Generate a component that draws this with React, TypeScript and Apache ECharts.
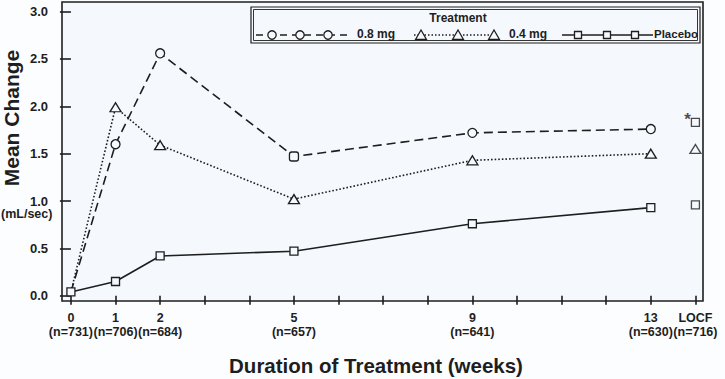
import React, { useEffect, useRef } from 'react';
import * as echarts from 'echarts';

// ---- data ----
const weeks = [0, 1, 2, 5, 9, 13];
const locfX = 14;
const tickPositions = [0, 1, 2, 5, 9, 13, 14];
const tickLabels = ['0', '1', '2', '5', '9', '13', 'LOCF'];
const nCounts = ['(n=731)', '(n=706)', '(n=684)', '(n=657)', '(n=641)', '(n=630)', '(n=716)'];
const yTicks = [0, 0.5, 1, 1.5, 2, 2.5, 3];
const xMinorTicks = [0, 1, 2, 3, 4, 5, 6, 7, 8, 9, 10, 11, 12, 13, 14];

const dose08 = [0.04, 1.6, 2.56, 1.47, 1.72, 1.76];
const dose04 = [0.04, 1.99, 1.59, 1.02, 1.43, 1.5];
const placebo = [0.04, 0.15, 0.42, 0.47, 0.76, 0.93];
const locf08 = 1.83;
const locf04 = 1.55;
const locfPlacebo = 0.96;

const INK = '#1e1e1e';
const PLOT_BG = '#f5f8fc';
const OUTER_BG = '#fcfdfe';
const FONT = '"Liberation Sans", Arial, Helvetica, sans-serif';

function buildOption() {
  const markerStyle = { color: PLOT_BG, borderColor: INK, borderWidth: 1.3 };

  const d08 = weeks.map((w, i) => {
    const item: any = { value: [w, dose08[i]] };
    if (i === 0) item.symbol = 'none';
    if (w === 5) { item.symbol = 'roundRect'; item.symbolSize = 9; }
    return item;
  });
  const d04 = weeks.map((w, i) => {
    const item: any = { value: [w, dose04[i]] };
    if (i === 0) item.symbol = 'none';
    return item;
  });
  const dpl = weeks.map((w, i) => [w, placebo[i]]);

  const legendY = 35;
  const circ = (cx: number) => ({
    type: 'circle', shape: { cx, cy: legendY, r: 4.2 },
    style: { fill: PLOT_BG, stroke: INK, lineWidth: 1.3 }, z: 101,
  });
  const tri = (cx: number) => ({
    type: 'polygon', shape: { points: [[cx, legendY - 5], [cx - 5.5, legendY + 4.5], [cx + 5.5, legendY + 4.5]] },
    style: { fill: PLOT_BG, stroke: INK, lineWidth: 1.3 }, z: 101,
  });
  const sq = (cx: number) => ({
    type: 'rect', shape: { x: cx - 3.5, y: legendY - 3.5, width: 7, height: 7 },
    style: { fill: PLOT_BG, stroke: INK, lineWidth: 1.3 }, z: 101,
  });
  const txt = (text: string, x: number, y: number, size: number, align = 'left', extra: any = {}) => ({
    type: 'text', x, y, z: 101, ...extra,
    style: {
      text, x: 0, y: 0, fill: INK, font: `bold ${size}px ${FONT}`,
      align, verticalAlign: 'middle', textAlign: align, textVerticalAlign: 'middle',
    },
  });

  return {
    animation: false,
    backgroundColor: OUTER_BG,
    grid: {
      left: 62, top: 2, width: 641, height: 299,
      show: true, backgroundColor: PLOT_BG, borderColor: INK, borderWidth: 1.6,
    },
    xAxis: {
      type: 'value', min: -0.2, max: 14.17,
      axisLine: { show: false },
      splitLine: { show: false },
      axisTick: { show: true, inside: false, length: 9, customValues: xMinorTicks, lineStyle: { color: INK, width: 1.6 } },
      axisLabel: {
        customValues: tickPositions,
        margin: 10,
        color: INK, fontFamily: FONT, fontWeight: 'bold', fontSize: 12.5, lineHeight: 14,
        formatter: (v: number) => {
          const i = tickPositions.indexOf(Math.round(v));
          return i < 0 ? '' : tickLabels[i] + '\n' + nCounts[i];
        },
      },
    },
    yAxis: {
      type: 'value', min: -0.056, max: 3.102,
      axisLine: { show: false },
      splitLine: { show: false },
      axisTick: { show: true, inside: false, length: 11, customValues: yTicks, lineStyle: { color: INK, width: 1.6 } },
      axisLabel: {
        customValues: yTicks, margin: 14,
        color: INK, fontFamily: FONT, fontWeight: 'bold', fontSize: 13,
        formatter: (v: number) => v.toFixed(1),
      },
    },
    series: [
      {
        name: '0.8 mg', type: 'line', data: d08, z: 3,
        symbol: 'circle', symbolSize: 9, itemStyle: markerStyle,
        lineStyle: { color: INK, width: 1.6, type: [9, 5] },
      },
      {
        name: '0.4 mg', type: 'line', data: d04, z: 3,
        symbol: 'triangle', symbolSize: [11, 9], itemStyle: markerStyle,
        lineStyle: { color: INK, width: 1.6, type: [1.6, 2] },
      },
      {
        name: 'Placebo', type: 'line', data: dpl, z: 4,
        symbol: 'rect', symbolSize: 8, itemStyle: markerStyle,
        lineStyle: { color: INK, width: 1.6, type: 'solid' },
      },
      {
        name: '0.8 mg LOCF', type: 'scatter', z: 4,
        data: [[locfX, locf08]], symbol: 'rect', symbolSize: 8, itemStyle: markerStyle,
        label: {
          show: true, formatter: '*', position: 'left', distance: 0, offset: [0, -3],
          color: INK, fontFamily: FONT, fontWeight: 'bold', fontSize: 17,
        },
      },
      {
        name: '0.4 mg LOCF', type: 'scatter', z: 4,
        data: [[locfX, locf04]], symbol: 'triangle', symbolSize: [11, 9], itemStyle: markerStyle,
      },
      {
        name: 'Placebo LOCF', type: 'scatter', z: 4,
        data: [[locfX, locfPlacebo]], symbol: 'rect', symbolSize: 8, itemStyle: markerStyle,
      },
    ],
    graphic: [
      {
        type: 'rect', z: 100, shape: { x: 251, y: 7, width: 449, height: 36 },
        style: { fill: PLOT_BG, stroke: INK, lineWidth: 1.2 },
      },
      {
        type: 'rect', z: 100, shape: { x: 253.5, y: 9.5, width: 444, height: 31 },
        style: { fill: 'none', stroke: INK, lineWidth: 0.9 },
      },
      txt('Treatment', 458, 18, 12, 'center'),
      { type: 'line', z: 100, shape: { x1: 256, y1: legendY, x2: 347, y2: legendY }, style: { stroke: INK, lineWidth: 1.5, lineDash: [7, 5] } },
      circ(272), circ(300), circ(328),
      txt('0.8 mg', 357, 34, 12),
      { type: 'line', z: 100, shape: { x1: 414, y1: legendY, x2: 498, y2: legendY }, style: { stroke: INK, lineWidth: 1.5, lineDash: [1.5, 2] } },
      tri(421), tri(458), tri(494),
      txt('0.4 mg', 509, 34, 12),
      { type: 'line', z: 100, shape: { x1: 562, y1: legendY, x2: 653, y2: legendY }, style: { stroke: INK, lineWidth: 1.5 } },
      sq(578), sq(607), sq(635),
      txt('Placebo', 654, 34, 11.5),
      txt('Mean Change', 11, 118, 21, 'center', { rotation: Math.PI / 2 }),
      txt('(mL/sec)', 1, 214, 12.5),
      txt('Duration of Treatment (weeks)', 376, 365, 20.5, 'center'),
    ],
  };
}

export default function App() {
  const ref = useRef<HTMLDivElement>(null);
  useEffect(() => {
    if (!ref.current) return;
    const chart = echarts.init(ref.current, null, { renderer: 'svg' });
    chart.setOption(buildOption() as any);
    return () => chart.dispose();
  }, []);
  return (
    <div
      ref={ref}
      style={{ position: 'fixed', left: 0, top: 0, width: 725, height: 379, background: OUTER_BG }}
    />
  );
}
